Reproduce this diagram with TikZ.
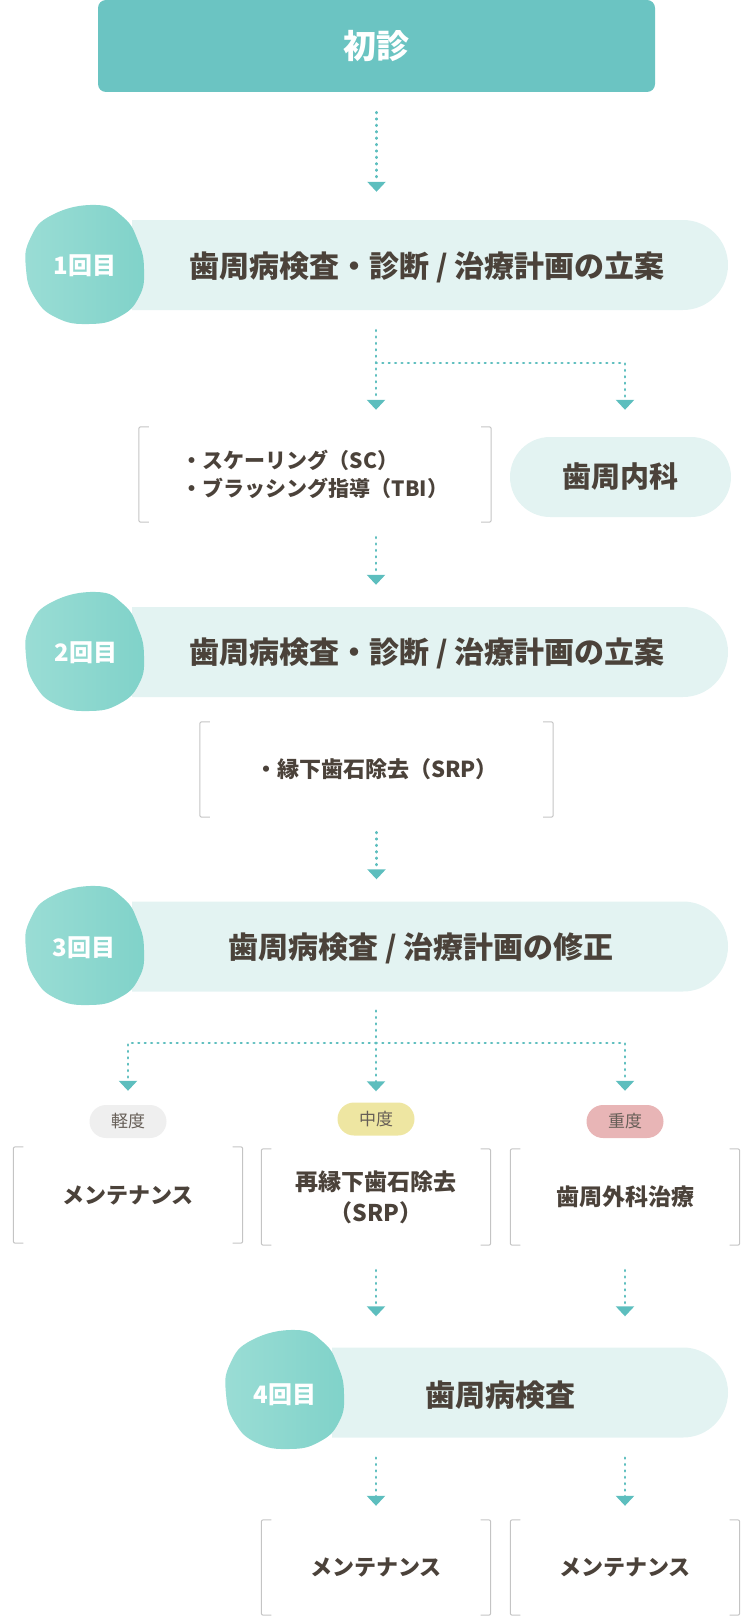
\documentclass[tikz,border=0pt]{standalone}
\usepackage{fontspec}
\setmainfont{Noto Sans CJK JP}
\usetikzlibrary{arrows.meta,shapes.misc}
\definecolor{teal0}{HTML}{6BC4C2}
\definecolor{pillc}{HTML}{E3F3F2}
\definecolor{blobA}{HTML}{9ADDD5}
\definecolor{blobB}{HTML}{80D2C9}
\definecolor{arrc}{HTML}{5DBEBE}
\definecolor{txt}{HTML}{4B423A}
\definecolor{brc}{HTML}{C4C4C4}
\definecolor{lvA}{HTML}{EFEFEF}
\definecolor{lvB}{HTML}{EEE6A2}
\definecolor{lvC}{HTML}{E8B5B6}
\newcommand\blobat[1]{\begin{scope}[shift={#1}]
 \shade[left color=blobA, right color=blobB] plot[smooth cycle, tension=0.8] coordinates {(11,-60) (38,-48) (53,-24) (59,4) (54,32) (34,52) (4,59) (-28,53) (-50,33) (-59,4) (-55,-26) (-33,-50)};
\end{scope}}
\newcommand\brkbox[1]{%
 \draw[brkline] ([xshift=10pt]#1.north west) -- (#1.north west) -- (#1.south west) -- ([xshift=10pt]#1.south west);
 \draw[brkline] ([xshift=-10pt]#1.north east) -- (#1.north east) -- (#1.south east) -- ([xshift=-10pt]#1.south east);}
\begin{document}
\begin{tikzpicture}[x=1pt,y=-1pt,
  topbox/.style={fill=teal0, rounded corners=8pt, minimum width=557pt, minimum height=92pt, text=white, font=\bfseries\fontsize{33pt}{38pt}\selectfont, inner sep=0pt},
  pill/.style={rounded rectangle, rounded rectangle left arc=none, fill=pillc, minimum height=90pt, inner sep=0pt},
  stg/.style={text=txt, font=\bfseries\fontsize{30pt}{36pt}\selectfont, inner sep=0pt},
  num/.style={text=white, font=\bfseries\fontsize{24pt}{28pt}\selectfont, inner sep=0pt},
  bx/.style={minimum width=229pt, minimum height=96pt, inner sep=0pt, text=txt, align=center, font=\bfseries\fontsize{22pt}{31pt}\selectfont},
  brkline/.style={draw=brc, line width=1pt, rounded corners=2pt},
  lvl/.style={rounded rectangle, minimum width=77pt, minimum height=33pt, inner sep=0pt, text=txt!85, font=\fontsize{17pt}{20pt}\selectfont},
  flow/.style={draw=arrc, line width=2.6pt, line cap=round, dash pattern=on 0.8pt off 5.6pt, -{Triangle[width=18pt,length=10pt]}},
]
\useasboundingbox (0,0) rectangle (750,1616);
\coordinate (cL) at (128,0);
\coordinate (cM) at (376,0);
\coordinate (cR) at (625,0);
\coordinate (j1) at (376,363);
\coordinate (j3) at (376,1043);

% top
\node[topbox] (top) at (376.5,46) {初診};

% stage 1
\node[pill, minimum width=596pt] (s1) at (430,265) {};
\blobat{(85,265)}
\node[num] (n1) at (85,266) {1回目};
\node[stg] (s1t) at (427,267) {歯周病検査・診断 / 治療計画の立案};

% after stage 1
\node[bx, minimum width=352pt, minimum height=95pt, align=left, font=\bfseries\fontsize{21pt}{28pt}\selectfont] (sc) at (315,474.5) {・スケーリング（SC）\\・ブラッシング指導（TBI）};
\brkbox{sc}
\node[rounded rectangle, fill=pillc, minimum width=221pt, minimum height=80pt, inner sep=0pt, text=txt, font=\bfseries\fontsize{29pt}{34pt}\selectfont] (naika) at (620.5,477) {歯周内科};

% stage 2
\node[pill, minimum width=596pt] (s2) at (430,652) {};
\blobat{(85,652)}
\node[num] (n2) at (86,653) {2回目};
\node[stg] (s2t) at (427,653) {歯周病検査・診断 / 治療計画の立案};

\node[bx, minimum width=353pt, minimum height=95pt] (srp) at (376.5,769.5) {・縁下歯石除去（SRP）};
\brkbox{srp}

% stage 3
\node[pill, minimum width=596pt] (s3) at (430,946.5) {};
\blobat{(85,946)}
\node[num] (n3) at (84,948) {3回目};
\node[stg] (s3t) at (421,948) {歯周病検査 / 治療計画の修正};

% levels
\node[lvl, fill=lvA] (k1) at (128,1121.5) {軽度};
\node[lvl, fill=lvB] (k2) at (376,1119) {中度};
\node[lvl, fill=lvC] (k3) at (625,1121.5) {重度};

\node[bx] (b1) at (128,1195) {メンテナンス};
\node[bx, font=\bfseries\fontsize{23pt}{31pt}\selectfont] (b2) at (376,1197) {再縁下歯石除去\\（SRP）};
\node[bx, font=\bfseries\fontsize{23pt}{31pt}\selectfont] (b3) at (625,1197) {歯周外科治療};
\brkbox{b1}
\brkbox{b2}
\brkbox{b3}

% stage 4
\node[pill, minimum width=396pt] (s4) at (530,1392.5) {};
\blobat{(285,1390)}
\node[num] (n4) at (285,1395) {4回目};
\node[stg] (s4t) at (500,1395) {歯周病検査};

\node[bx, minimum height=95pt] (m1) at (376,1567.5) {メンテナンス};
\node[bx, minimum height=95pt] (m2) at (625,1567.5) {メンテナンス};
\brkbox{m1}
\brkbox{m2}

% connectors
\draw[flow, shorten <=20pt, shorten >=28pt] (top.south) -- (top.south |- s1.north);
\draw[flow, shorten <=20pt, shorten >=17pt] (s1.south -| cM) -- (sc.north -| cM);
\draw[flow, shorten >=27pt] (j1) -| (naika.north -| cR);
\draw[flow, shorten <=15pt, shorten >=22pt] (sc.south -| cM) -- (s2.north -| cM);
\draw[flow, shorten <=15pt, shorten >=22pt] (srp.south) -- (srp.south |- s3.north);
\draw[flow, shorten <=19pt, shorten >=11pt] (s3.south -| cM) -- (k2.north);
\draw[flow, shorten >=14pt] (j3) -| (k1.north);
\draw[flow, shorten >=14pt] (j3) -| (k3.north);
\draw[flow, shorten <=25pt, shorten >=31pt] (b2.south) -- (b2.south |- s4.north);
\draw[flow, shorten <=25pt, shorten >=31pt] (b3.south) -- (b3.south |- s4.north);
\draw[flow, shorten <=20pt, shorten >=14pt] (m1.north |- s4.south) -- (m1.north);
\draw[flow, shorten <=20pt, shorten >=14pt] (m2.north |- s4.south) -- (m2.north);
\end{tikzpicture}
\end{document}
